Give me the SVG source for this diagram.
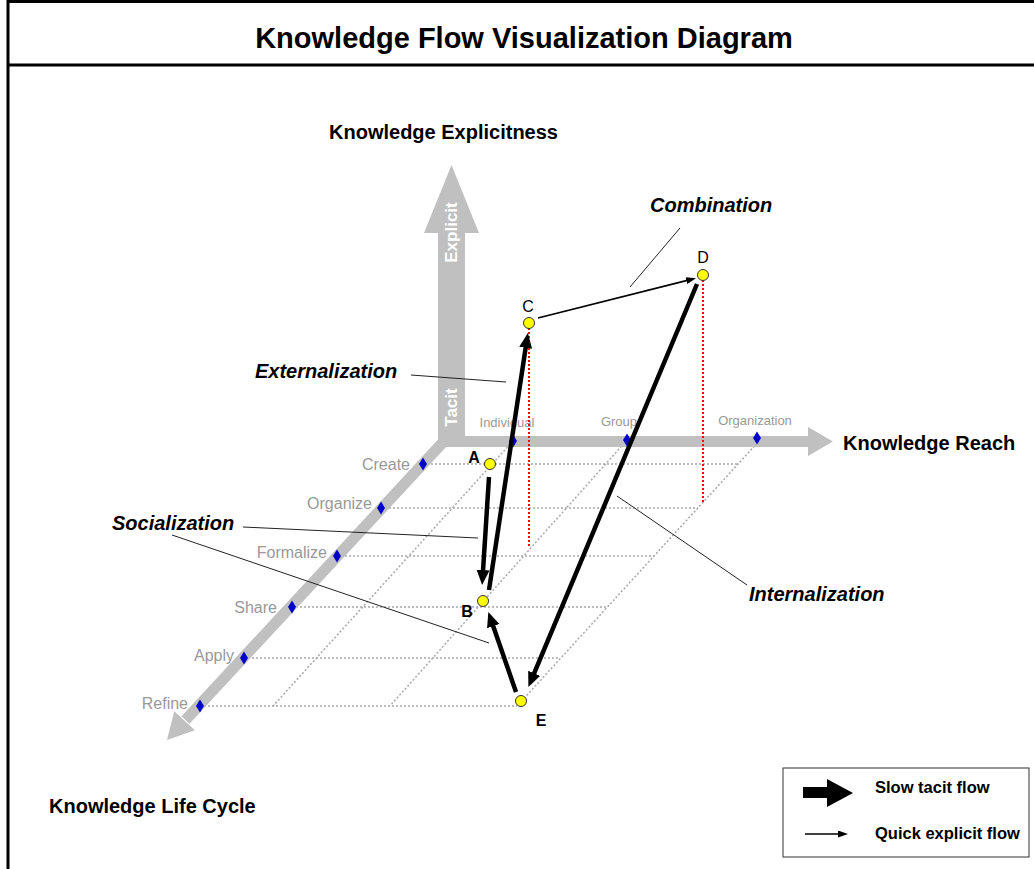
<svg xmlns="http://www.w3.org/2000/svg" width="1034" height="869" viewBox="0 0 1034 869">
<style>
.frame{stroke:#000;stroke-width:3;fill:none}
.title{font-family:"Liberation Sans",Arial,sans-serif;font-weight:bold;font-size:29px;fill:#000}
.axt{font-family:"Liberation Sans",Arial,sans-serif;font-weight:bold;font-size:20px;fill:#000}
.mode{font-family:"Liberation Sans",Arial,sans-serif;font-weight:bold;font-style:italic;font-size:20px;fill:#000}
.tick{font-family:"Liberation Sans",Arial,sans-serif;font-size:16px;fill:#999}
.tickh{font-family:"Liberation Sans",Arial,sans-serif;font-size:13px;fill:#999}
.axin{font-family:"Liberation Sans",Arial,sans-serif;font-weight:bold;font-size:17px;fill:#fff}
.axis{fill:#c0c0c0}
.grid{stroke:#a8a8a8;stroke-width:1.5;stroke-dasharray:2 2;fill:none}
.red{stroke:#ff0000;stroke-width:2;stroke-dasharray:2 2;fill:none}
.dia{fill:#0000cc}
.pt{fill:#ffff00;stroke:#333;stroke-width:1}
.plab{font-family:"Liberation Sans",Arial,sans-serif;font-size:16px;fill:#000;text-anchor:middle}
.lead{stroke:#222;stroke-width:1;fill:none}
.slow{stroke:#000;stroke-width:4.5;fill:none;marker-end:url(#hbig)}
.quick{stroke:#000;stroke-width:1.6;fill:none;marker-end:url(#hsmall)}
.leg{font-family:"Liberation Sans",Arial,sans-serif;font-weight:bold;font-size:16.5px;fill:#000}
</style>
<defs>
<marker id="hbig" markerUnits="userSpaceOnUse" markerWidth="16" markerHeight="14" refX="1" refY="6.5" orient="auto"><path d="M0,0 L15,6.5 L0,13 Z" fill="#000"/></marker>
<marker id="hsmall" markerUnits="userSpaceOnUse" markerWidth="11" markerHeight="8" refX="1" refY="3.5" orient="auto"><path d="M0,0 L10,3.5 L0,7 Z" fill="#000"/></marker>
</defs>
<rect width="1034" height="869" fill="#fff"/>
<g id="frame">
<path class="frame" d="M8,869 V1.5 H1034"/>
<line class="frame" x1="8" y1="65" x2="1034" y2="65"/>
<text class="title" x="524" y="48" text-anchor="middle">Knowledge Flow Visualization Diagram</text>
</g>
<g id="grid">
<line class="grid" x1="423" y1="464" x2="738" y2="464"/>
<line class="grid" x1="381" y1="508" x2="698" y2="508"/>
<line class="grid" x1="337" y1="556" x2="654" y2="556"/>
<line class="grid" x1="292" y1="607" x2="607" y2="607"/>
<line class="grid" x1="244" y1="658" x2="560" y2="658"/>
<line class="grid" x1="200" y1="706" x2="517" y2="706"/>
<line class="grid" x1="513" y1="441" x2="273" y2="706"/>
<line class="grid" x1="627" y1="440" x2="390" y2="706"/>
<line class="grid" x1="760" y1="440" x2="517" y2="706"/>
</g>
<g id="axes">
<line x1="446" y1="439" x2="185.5" y2="720" stroke="#c0c0c0" stroke-width="11"/>
<polygon class="axis" points="167,740 174.3,711.3 194.9,730.3"/>
<polygon class="axis" points="438,436 808,436 808,427 833,441.5 808,456 808,447 438,447"/>
<polygon class="axis" points="438,447 438,233 424,233 451.5,165 479,233 465,233 465,447"/>
<text class="axin" transform="translate(457,232.5) rotate(-90)" text-anchor="middle">Explicit</text>
<text class="axin" transform="translate(457,407.5) rotate(-90)" text-anchor="middle">Tacit</text>
<text class="axt" x="443.5" y="139" text-anchor="middle">Knowledge Explicitness</text>
<text class="axt" x="843" y="450">Knowledge Reach</text>
<text class="axt" x="49" y="813">Knowledge Life Cycle</text>
</g>
<g id="ticks">
<text class="tickh" x="507" y="427" text-anchor="middle">Individual</text>
<text class="tickh" x="619" y="426" text-anchor="middle">Group</text>
<text class="tickh" x="755" y="425" text-anchor="middle">Organization</text>
<text class="tick" x="410" y="470" text-anchor="end">Create</text>
<text class="tick" x="372" y="509" text-anchor="end">Organize</text>
<text class="tick" x="327" y="558" text-anchor="end">Formalize</text>
<text class="tick" x="277" y="613" text-anchor="end">Share</text>
<text class="tick" x="234" y="661" text-anchor="end">Apply</text>
<text class="tick" x="188" y="709" text-anchor="end">Refine</text>
<polygon class="dia" points="513,434.5 517,441 513,447.5 509,441"/>
<polygon class="dia" points="627,433.5 631,440 627,446.5 623,440"/>
<polygon class="dia" points="757,431.5 761,438 757,444.5 753,438"/>
<polygon class="dia" points="423,457.5 427,464 423,470.5 419,464"/>
<polygon class="dia" points="381,501.5 385,508 381,514.5 377,508"/>
<polygon class="dia" points="337,549.5 341,556 337,562.5 333,556"/>
<polygon class="dia" points="292,600.5 296,607 292,613.5 288,607"/>
<polygon class="dia" points="244,651.5 248,658 244,664.5 240,658"/>
<polygon class="dia" points="200,699.5 204,706 200,712.5 196,706"/>
</g>
<g id="projections">
<line class="red" x1="529" y1="328" x2="529" y2="548"/>
<line class="red" x1="703" y1="280" x2="703" y2="502"/>
</g>
<g id="mode-labels">
<text class="mode" x="650" y="212">Combination</text>
<text class="mode" x="255" y="378">Externalization</text>
<text class="mode" x="112" y="530">Socialization</text>
<text class="mode" x="749" y="601">Internalization</text>
<line class="lead" x1="680" y1="228" x2="630" y2="287"/>
<line class="lead" x1="411" y1="375" x2="506" y2="382"/>
<line class="lead" x1="243" y1="527" x2="478" y2="538"/>
<line class="lead" x1="172" y1="535" x2="489" y2="643"/>
<line class="lead" x1="617" y1="496" x2="747" y2="585"/>
</g>
<g id="connectors">
<line class="slow" x1="489" y1="477" x2="483" y2="571"/>
<line class="slow" x1="489" y1="590" x2="525.8" y2="346.8"/>
<line class="slow" x1="516" y1="692" x2="492.9" y2="625.2"/>
<line class="slow" x1="697" y1="284" x2="533.8" y2="674.2"/>
<line class="quick" x1="538" y1="318" x2="687.3" y2="280.4"/>
</g>
<g id="node-A"><circle class="pt" cx="490" cy="464" r="5.5"/><text class="plab" x="474" y="463" font-weight="bold">A</text></g>
<g id="node-B"><circle class="pt" cx="483" cy="601" r="5.5"/><text class="plab" x="467" y="617" font-weight="bold">B</text></g>
<g id="node-C"><circle class="pt" cx="529" cy="323" r="5.5"/><text class="plab" x="528" y="312">C</text></g>
<g id="node-D"><circle class="pt" cx="703" cy="275" r="5.5"/><text class="plab" x="703" y="263">D</text></g>
<g id="node-E"><circle class="pt" cx="521" cy="701" r="5.5"/><text class="plab" x="541" y="726" font-weight="bold">E</text></g>
<g id="legend">
<rect x="783" y="768" width="246" height="89" fill="#fff" stroke="#333" stroke-width="1"/>
<polygon points="803,787 827,787 827,779 853,793 827,807 827,798 803,798" fill="#000"/>
<line class="quick" x1="805" y1="834" x2="839" y2="834"/>
<text class="leg" x="875" y="793">Slow tacit flow</text>
<text class="leg" x="875" y="839">Quick explicit flow</text>
</g>
</svg>
